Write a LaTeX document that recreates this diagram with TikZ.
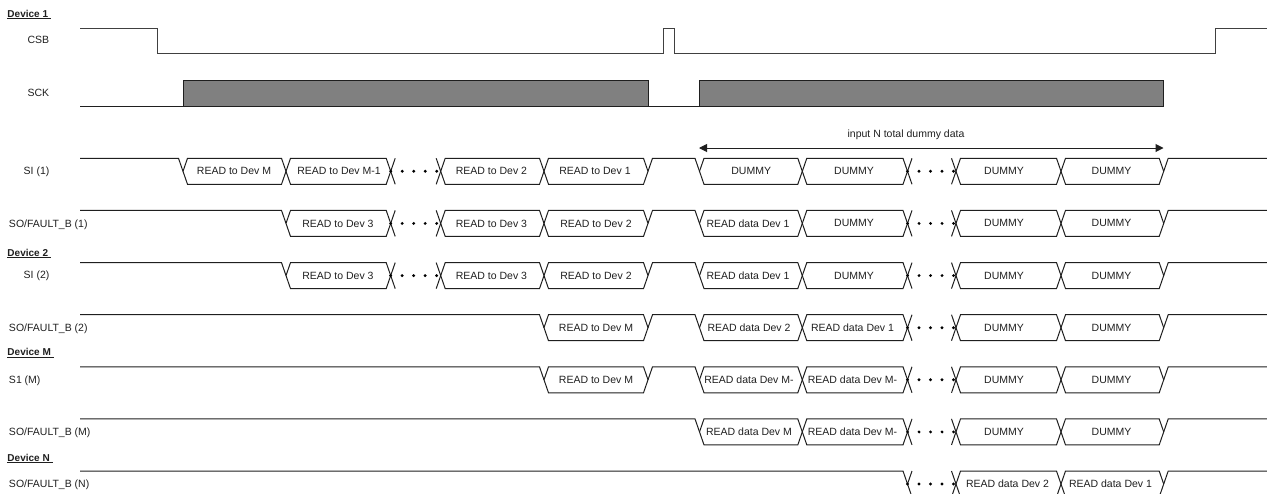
\documentclass[tikz,border=0pt]{standalone}
\usepackage{fontspec}
\setmainfont{Liberation Sans}
\usepackage{tikz}
\usetikzlibrary{arrows.meta}
\definecolor{sckgray}{gray}{0.5}
\definecolor{inkgray}{gray}{0.12}
\tikzset{
    wave/.style={draw=inkgray,line width=1pt},
    celltext/.style={inner sep=0pt,text=inkgray,font=\fontsize{10.5}{12}\selectfont},
    signame/.style={celltext,anchor=west},
    devname/.style={signame,font=\fontsize{10}{12}\selectfont\bfseries},
    gapdots/.style={line width=3.2pt,draw=black,line cap=round,dash pattern=on 0pt off 11.5pt},
    arrow/.style={{Triangle[length=8pt,width=8pt]}-{Triangle[length=8pt,width=8pt]},line width=1pt,draw=inkgray}
}
% name, left x, right x, top y, label x, label
\newcommand{\buscell}[6]{
    \draw[wave] (#2,#4+13) -- ({#2+4.5},#4) -- ({#3-4.5},#4) -- (#3,#4+13) -- ({#3-4.5},#4+26) -- ({#2+4.5},#4+26) -- cycle;
    \node[celltext] (#1) at (#5,#4+13) {#6};
}
% left x, right x, top y
\newcommand{\busgap}[3]{
    \draw[wave] ({#1+4.5},#3) -- (#1,#3+13) -- ({#1+4.5},#3+26);
    \draw[wave] ({#2-4.5},#3) -- (#2,#3+13) -- ({#2-4.5},#3+26);
    \draw[gapdots] (#1,#3+13) -- ({#2-2.5},#3+13);
}
% line into the first crossing, line out of the last one, short high part at the CSB pulse
\newcommand{\buslead}[2]{\draw[wave] (80,#2) -- ({#1-4.5},#2) -- (#1,#2+13);}
\newcommand{\bustail}[2]{\draw[wave] (#1,#2+13) -- ({#1+4.5},#2) -- (1267,#2);}
\newcommand{\busbreak}[1]{\draw[wave] (648,#1+13) -- (652.5,#1) -- (695,#1) -- (699.5,#1+13);}

\begin{document}
\begin{tikzpicture}[x=1pt,y=-1pt]
    \useasboundingbox (0,0) rectangle (1267,493);
    \clip (0,0) rectangle (1267,493);

    % device 1
    \node[devname] (dev1) at (7.3,14.5) {\underline{Device 1\ }};
    \node[signame] (csblabel) at (27.3,40) {CSB};
    \node[signame] (scklabel) at (27.3,93.3) {SCK};
    \node[signame] (si1label) at (23.5,171.3) {SI (1)};
    \node[signame] (so1label) at (8.8,224.5) {SO/FAULT\_B (1)};
    \draw[wave,draw=inkgray!85] (80,28) -- (157.7,28) -- (157.7,53.7) -- (663,53.7) -- (663,28) -- (674,28) -- (674,53.7) -- (1215,53.7) -- (1215,28) -- (1267,28);
    \draw[wave] (80,106) -- (183.3,106);
    \draw[wave,fill=sckgray] (183.3,80) rectangle (648.7,106);
    \draw[wave] (648.7,106) -- (699.3,106);
    \draw[wave,fill=sckgray] (699.3,80) rectangle (1163.5,106);

    \node[celltext] (dummylabel) at (906,134.5) {input N total dummy data};
    \coordinate (dummystart) at (699,148);
    \coordinate (dummyend) at (1163.5,148);
    \draw[arrow] (dummystart) -- (dummyend);

    % SI (1)
    \buslead{183}{158.3}
    \buscell{si1a}{183}{286}{158.3}{234}{READ to Dev M}
    \buscell{si1b}{286}{390.7}{158.3}{339}{READ to Dev M-1}
    \busgap{390.7}{440.7}{158.3}
    \buscell{si1c}{440.7}{544}{158.3}{491.5}{READ to Dev 2}
    \buscell{si1d}{544}{648}{158.3}{595}{READ to Dev 1}
    \busbreak{158.3}
    \buscell{si1e}{699.5}{802.3}{158.3}{751.2}{DUMMY}
    \buscell{si1f}{802.3}{907.5}{158.3}{854}{DUMMY}
    \busgap{907.5}{956}{158.3}
    \buscell{si1g}{956}{1061}{158.3}{1004}{DUMMY}
    \buscell{si1h}{1061}{1163.7}{158.3}{1111.5}{DUMMY}
    \bustail{1163.7}{158.3}

    % SO/FAULT_B (1)
    \buslead{286}{210.4}
    \buscell{so1a}{286}{390.7}{210.4}{338}{READ to Dev 3}
    \busgap{390.7}{440.7}{210.4}
    \buscell{so1b}{440.7}{544}{210.4}{491.5}{READ to Dev 3}
    \buscell{so1c}{544}{648}{210.4}{596}{READ to Dev 2}
    \busbreak{210.4}
    \buscell{so1d}{699.5}{802.3}{210.4}{748}{READ data Dev 1}
    \buscell{so1e}{802.3}{907.5}{210.4}{854}{DUMMY}
    \busgap{907.5}{956}{210.4}
    \buscell{so1f}{956}{1061}{210.4}{1004}{DUMMY}
    \buscell{so1g}{1061}{1163.7}{210.4}{1111.5}{DUMMY}
    \bustail{1163.7}{210.4}

    % device 2
    \node[devname] (dev2) at (7.3,253.5) {\underline{Device 2\ }};
    \node[signame] (si2label) at (23.5,275.3) {SI (2)};
    \node[signame] (so2label) at (8.8,329) {SO/FAULT\_B (2)};

    % SI (2)
    \buslead{286}{262.6}
    \buscell{si2a}{286}{390.7}{262.6}{338}{READ to Dev 3}
    \busgap{390.7}{440.7}{262.6}
    \buscell{si2b}{440.7}{544}{262.6}{491.5}{READ to Dev 3}
    \buscell{si2c}{544}{648}{262.6}{596}{READ to Dev 2}
    \busbreak{262.6}
    \buscell{si2d}{699.5}{802.3}{262.6}{748}{READ data Dev 1}
    \buscell{si2e}{802.3}{907.5}{262.6}{854}{DUMMY}
    \busgap{907.5}{956}{262.6}
    \buscell{si2f}{956}{1061}{262.6}{1004}{DUMMY}
    \buscell{si2g}{1061}{1163.7}{262.6}{1111.5}{DUMMY}
    \bustail{1163.7}{262.6}

    % SO/FAULT_B (2)
    \buslead{544}{314.7}
    \buscell{so2a}{544}{648}{314.7}{596}{READ to Dev M}
    \busbreak{314.7}
    \buscell{so2b}{699.5}{802.3}{314.7}{749}{READ data Dev 2}
    \buscell{so2c}{802.3}{907.5}{314.7}{852.5}{READ data Dev 1}
    \busgap{907.5}{956}{314.7}
    \buscell{so2d}{956}{1061}{314.7}{1004}{DUMMY}
    \buscell{so2e}{1061}{1163.7}{314.7}{1111.5}{DUMMY}
    \bustail{1163.7}{314.7}

    % device M
    \node[devname] (devm) at (7.3,353) {\underline{Device M\ }};
    \node[signame] (simlabel) at (8.8,380.5) {S1 (M)};
    \node[signame] (somlabel) at (8.8,432.5) {SO/FAULT\_B (M)};

    % S1 (M)
    \buslead{544}{366.8}
    \buscell{sima}{544}{648}{366.8}{596}{READ to Dev M}
    \busbreak{366.8}
    \buscell{simb}{699.5}{802.3}{366.8}{749}{READ data Dev M-}
    \buscell{simc}{802.3}{907.5}{366.8}{852.5}{READ data Dev M-}
    \busgap{907.5}{956}{366.8}
    \buscell{simd}{956}{1061}{366.8}{1004}{DUMMY}
    \buscell{sime}{1061}{1163.7}{366.8}{1111.5}{DUMMY}
    \bustail{1163.7}{366.8}

    % SO/FAULT_B (M)
    \buslead{699.5}{418.9}
    \buscell{soma}{699.5}{802.3}{418.9}{749}{READ data Dev M}
    \buscell{somb}{802.3}{907.5}{418.9}{852.5}{READ data Dev M-}
    \busgap{907.5}{956}{418.9}
    \buscell{somc}{956}{1061}{418.9}{1004}{DUMMY}
    \buscell{somd}{1061}{1163.7}{418.9}{1111.5}{DUMMY}
    \bustail{1163.7}{418.9}

    % device N
    \node[devname] (devn) at (7.3,458.5) {\underline{Device N\ }};
    \node[signame] (sonlabel) at (8.8,484.5) {SO/FAULT\_B (N)};

    % SO/FAULT_B (N)
    \buslead{907.5}{471}
    \busgap{907.5}{956}{471}
    \buscell{sona}{956}{1061}{471}{1007.5}{READ data Dev 2}
    \buscell{sonb}{1061}{1163.7}{471}{1110.5}{READ data Dev 1}
    \bustail{1163.7}{471}
\end{tikzpicture}
\end{document}
